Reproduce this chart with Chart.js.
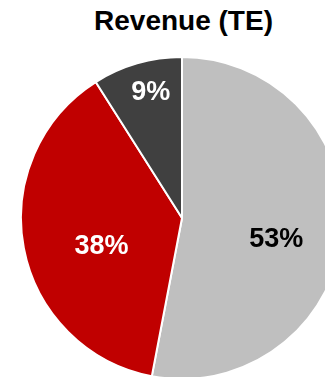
<!DOCTYPE html>
<html>
<head>
<meta charset="utf-8">
<script src="https://cdn.jsdelivr.net/npm/chart.js@4/dist/chart.umd.min.js"></script>
<style>
  html, body { margin: 0; padding: 0; width: 325px; height: 377px; overflow: hidden; background: #fff; }
  #title {
    position: absolute; left: 0; top: 5px; width: 367px; text-align: center;
    font: bold 28px "Liberation Sans", Arial, sans-serif; color: #000;
  }
  #wrap { position: absolute; left: 20px; top: 56px; width: 324px; height: 324px; }
</style>
</head>
<body>
<div id="title">Revenue (TE)</div>
<div id="wrap"><canvas id="pieChart" width="324" height="324"></canvas></div>
<script>
// setup
const segments = ['Segment A', 'Segment B', 'Segment C'];
const shares = [53, 38, 9];
const sliceColors = ['#BFBFBF', '#C00000', '#404040'];
const labelColors = ['#000000', '#ffffff', '#ffffff'];
// label placement: fraction of radius, angle nudge in degrees
const labelRadius = [0.60, 0.53, 0.80];
const labelNudge = [7.4, -8.6, 2.2];

const pctLabels = {
  id: 'pctLabels',
  afterDatasetsDraw(chart) {
    const ctx = chart.ctx;
    const meta = chart.getDatasetMeta(0);
    ctx.save();
    ctx.font = 'bold 27px "Liberation Sans", Arial, sans-serif';
    ctx.textAlign = 'center';
    ctx.textBaseline = 'middle';
    meta.data.forEach((arc, i) => {
      const p = arc.getProps(['x', 'y', 'startAngle', 'endAngle', 'outerRadius'], true);
      const a = (p.startAngle + p.endAngle) / 2 + labelNudge[i] * Math.PI / 180;
      const r = p.outerRadius * labelRadius[i];
      ctx.fillStyle = labelColors[i];
      ctx.fillText(shares[i] + '%', p.x + Math.cos(a) * r, p.y + Math.sin(a) * r);
    });
    ctx.restore();
  }
};

// config
const config = {
  type: 'pie',
  data: {
    labels: segments,
    datasets: [{
      data: shares,
      backgroundColor: sliceColors,
      borderColor: '#ffffff',
      borderWidth: 2
    }]
  },
  options: {
    responsive: false,
    animation: false,
    layout: { padding: 0 },
    plugins: {
      legend: { display: false },
      tooltip: { enabled: false }
    }
  },
  plugins: [pctLabels]
};

const pieChart = new Chart(document.getElementById('pieChart'), config);
</script>
</body>
</html>
